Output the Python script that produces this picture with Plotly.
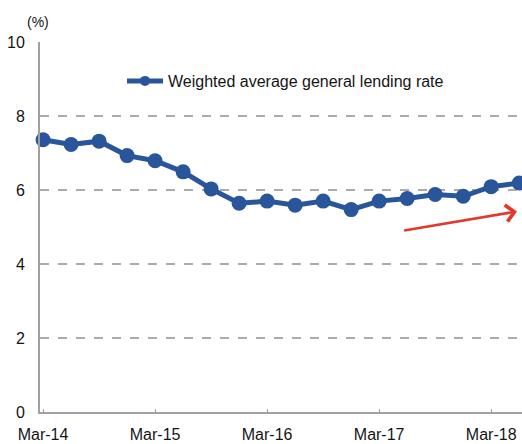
import plotly.graph_objects as go

# Quarterly observations, Mar-14 to Jun-18
quarters = ["Mar-14", "Jun-14", "Sep-14", "Dec-14",
            "Mar-15", "Jun-15", "Sep-15", "Dec-15",
            "Mar-16", "Jun-16", "Sep-16", "Dec-16",
            "Mar-17", "Jun-17", "Sep-17", "Dec-17",
            "Mar-18", "Jun-18"]
lending_rate = [7.36, 7.23, 7.32, 6.93, 6.79, 6.49, 6.03, 5.64, 5.70,
                5.59, 5.70, 5.47, 5.70, 5.77, 5.88, 5.83, 6.09, 6.19]
series_name = "Weighted average general lending rate"

x_ticks = ["Mar-14", "Mar-15", "Mar-16", "Mar-17", "Mar-18"]
y_ticks = [0, 2, 4, 6, 8, 10]

BLUE = "#29569A"
GRID = "#ABABAB"
AXIS = "#A0A0A0"
TEXT = "#151515"
FONT = "Liberation Sans, Arial, sans-serif"

W, H = 522, 444
ML, MR, MT, MB = 40, 0, 42, 32
pw, ph = W - ML - MR, H - MT - MB

fig = go.Figure()

fig.add_trace(go.Scatter(
    x=quarters, y=lending_rate, mode="lines+markers",
    line=dict(color=BLUE, width=5),
    marker=dict(color=BLUE, size=15),
    showlegend=False, cliponaxis=False,
))

# legend entry with a smaller marker
fig.add_trace(go.Scatter(
    x=[None], y=[None], mode="lines+markers", name=series_name,
    line=dict(color=BLUE, width=5),
    marker=dict(color=BLUE, size=10),
))

# trend arrow
fig.add_annotation(
    x=16.92, y=5.42, ax=12.84, ay=4.90,
    xref="x", yref="y", axref="x", ayref="y",
    showarrow=True, arrowhead=4, arrowsize=1.3, arrowwidth=2.5,
    arrowcolor="#E2382E", text="",
)

# unit label above the value axis
fig.add_annotation(
    text="(%)", x=(38 - ML) / pw, y=(H - MB - 22) / ph,
    xref="paper", yref="paper", xanchor="center", yanchor="middle",
    showarrow=False, font=dict(size=14, color=TEXT, family=FONT),
)

fig.update_layout(
    width=W, height=H,
    margin=dict(l=ML, r=MR, t=MT, b=MB),
    paper_bgcolor="white", plot_bgcolor="white",
    font=dict(family=FONT, color=TEXT, size=16),
    legend=dict(
        x=(122 - ML) / pw, y=(H - MB - 81) / ph,
        xanchor="left", yanchor="middle",
        bgcolor="rgba(0,0,0,0)", font=dict(size=16, family=FONT, color=TEXT),
        itemwidth=36, traceorder="normal",
    ),
    xaxis=dict(
        type="category", range=[-0.11, 17.1],
        tickmode="array", tickvals=x_ticks, ticktext=x_ticks,
        showgrid=False, zeroline=False,
        showline=True, linecolor=AXIS, linewidth=2,
        ticks="inside", ticklen=3, tickcolor=AXIS,
        tickfont=dict(size=16), ticklabelstandoff=7,
    ),
    yaxis=dict(
        range=[0, 10], tickmode="array", tickvals=y_ticks,
        showgrid=True, gridcolor=GRID, gridwidth=1.8, griddash="9px,9px",
        zeroline=False,
        showline=True, linecolor=AXIS, linewidth=2,
        ticks="", tickfont=dict(size=16), ticklabelstandoff=10,
    ),
)

fig.write_html("out.html")
